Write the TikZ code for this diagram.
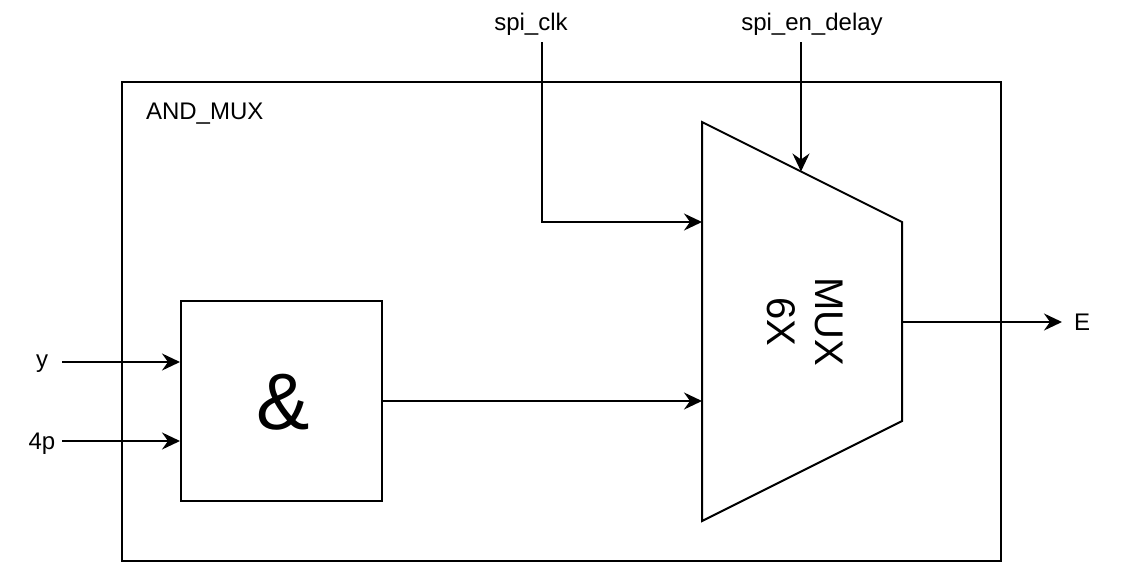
\documentclass[tikz,border=0pt]{standalone}
\usepackage{fontspec}
\setmainfont{Liberation Sans}
\usetikzlibrary{arrows.meta}
\begin{document}
\begin{tikzpicture}[x=1pt,y=-1pt,line width=2pt,
  lbl/.style={font=\fontsize{24}{28}\selectfont, inner sep=0pt, anchor=base},
  wire/.style={-{Stealth[length=18pt,width=17pt,inset=6pt]}},
  box/.style={draw, inner sep=0pt, line width=2pt}]
\useasboundingbox (0,0) rectangle (1125,565);
% outer block
\node[box, minimum width=879pt, minimum height=479pt] (outer) at (561.5,321.5) {};
\node[lbl, anchor=base west] (title) at (145,119.5) {AND\_MUX};
% AND gate
\node[box, minimum width=201pt, minimum height=200pt] (andg) at (281.5,401) {};
\node[font=\fontsize{80}{90}\selectfont, inner sep=0pt, anchor=base] (amp) at (283,429) {\&};
% MUX
\coordinate (mtl) at (702,122);
\coordinate (mtr) at (902,222);
\coordinate (mbr) at (902,421);
\coordinate (mbl) at (702,521);
\draw[line join=miter] (mtl) -- (mtr) -- (mbr) -- (mbl) -- cycle;
\node[rotate=-90, align=center, font=\fontsize{40}{48}\selectfont, inner sep=0pt] (muxtxt) at (805,322) {MUX\\6X};
\coordinate (muxclk) at (702,222);
\coordinate (muxin) at (702,401);
\coordinate (muxsel) at (801,171.5);
\coordinate (muxout) at (902,322);
% labels
\node[lbl] (ylbl) at (42,367.5) {y};
\node[lbl] (plbl) at (42,449) {4p};
\node[lbl] (clklbl) at (531,30) {spi\_clk};
\node[lbl] (enlbl) at (812,30) {spi\_en\_delay};
\node[lbl] (elbl) at (1082,330) {E};
\coordinate (ystart) at (62,362);
\coordinate (pstart) at (62,441);
\coordinate (clkstart) at (542,42);
\coordinate (enstart) at (801,42);
\coordinate (eend) at (1062,322);
% wires
\draw[wire] (ystart) -- (andg.west |- ystart);
\draw[wire] (pstart) -- (andg.west |- pstart);
\draw[wire] (andg.east) -- (muxin);
\draw[wire] (clkstart) |- (muxclk);
\draw[wire] (enstart) -- (muxsel);
\draw[wire] (muxout) -- (eend);
\end{tikzpicture}
\end{document}
